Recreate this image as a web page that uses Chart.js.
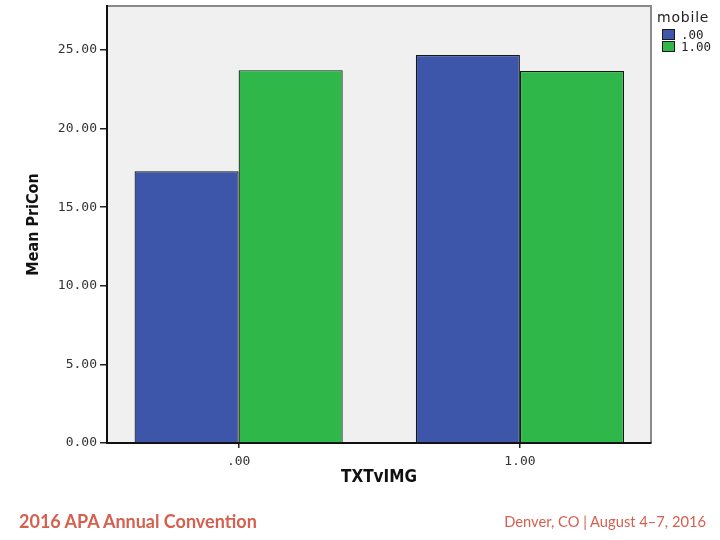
<!DOCTYPE html>
<html>
<head>
<meta charset="utf-8">
<script src="https://cdn.jsdelivr.net/npm/chart.js@4.4.1/dist/chart.umd.min.js"></script>
<style>
  html, body { margin: 0; padding: 0; background: #fff; }
  #wrap { position: relative; width: 720px; height: 540px; }
  #legend { position: absolute; left: 657px; top: 9px; font-family: "DejaVu Sans", sans-serif; color: #222; }
  #legend .title { font-size: 14px; letter-spacing: 0.8px; margin-bottom: 3px; }
  #legend .item { display: flex; align-items: center; height: 12px; margin-left: 5px; font-family: "DejaVu Sans Mono", monospace; font-size: 12.5px; }
  #legend .box { width: 11px; height: 9px; border: 1px solid #1a1a1a; margin-right: 6px; }
  .foot { position: absolute; top: 510px; font-family: Lato, sans-serif; color: #d6604f; white-space: nowrap; }
  #footL { left: 19px; font-weight: bold; font-size: 18px; }
  #footR { right: 14px; font-size: 14.7px; top: 512px; }
</style>
</head>
<body>
<div id="wrap">
  <canvas id="c" width="720" height="540"></canvas>
  <div id="legend"></div>
  <div class="foot" id="footL">2016 APA Annual Convention</div>
  <div class="foot" id="footR">Denver, CO | August 4–7, 2016</div>
</div>
<script>
// ---- data ----
const categories = [0, 1];
const categoryLabels = [".00", "1.00"];
const seriesNames = [".00", "1.00"];
const mobile00 = [17.28, 24.68];
const mobile100 = [23.72, 23.66];
const yTicks = [0, 5, 10, 15, 20, 25];
const legendTitle = "mobile";
const xTitle = "TXTvIMG";
const yTitle = "Mean PriCon";

const colors = ["#3d56a9", "#2fb74a"];
const seriesValues = [mobile00, mobile100];

const datasets = seriesNames.map((name, i) => ({
  label: name,
  data: categories.map((c, j) => ({ x: c, y: seriesValues[i][j] })),
  backgroundColor: colors[i],
  borderColor: "#151a15",
  borderWidth: 1.2,
  borderSkipped: "bottom",
  barPercentage: 1.0,
  categoryPercentage: 0.74
}));

// HTML legend from the series arrays
const lg = document.getElementById("legend");
lg.innerHTML = '<div class="title">' + legendTitle + '</div>' +
  seriesNames.map((n, i) => '<div class="item"><span class="box" style="background:' + colors[i] + '"></span>' + n + '</div>').join("");

const plotBg = {
  id: "plotBg",
  beforeDraw(chart) {
    const { ctx, chartArea: a } = chart;
    ctx.save();
    ctx.fillStyle = "#f0f0f0";
    ctx.fillRect(a.left, a.top, a.right - a.left, a.bottom - a.top);
    ctx.strokeStyle = "#8a8a8a";
    ctx.lineWidth = 2;
    ctx.beginPath();
    ctx.moveTo(a.left, a.top);
    ctx.lineTo(a.right, a.top);
    ctx.lineTo(a.right, a.bottom);
    ctx.stroke();
    ctx.restore();
  }
};

new Chart(document.getElementById("c"), {
  type: "bar",
  data: { datasets },
  options: {
    responsive: false,
    animation: false,
    layout: { padding: { left: 0, right: 69, top: 6, bottom: 49 } },
    plugins: { legend: { display: false }, tooltip: { enabled: false } },
    scales: {
      x: {
        type: "linear",
        offset: false,
        min: -0.468,
        max: 1.466,
        afterBuildTicks(scale) { scale.ticks = categories.map(v => ({ value: v })); },
        afterFit(scale) { scale.height = 48; scale.paddingLeft = 0; scale.paddingRight = 0; },
        ticks: {
          callback: (v) => categoryLabels[categories.indexOf(v)] ?? "",
          font: { family: "DejaVu Sans Mono", size: 13 },
          color: "#333",
          padding: 6,
          maxRotation: 0
        },
        grid: { offset: false, drawOnChartArea: false, drawTicks: true, tickLength: 5, color: "#222", lineWidth: 1.5 },
        border: { color: "#111", width: 2 },
        title: {
          display: true, text: xTitle,
          font: { family: "DejaVu Sans Condensed", size: 17, weight: "bold" },
          color: "#111",
          padding: { top: 0, bottom: 3 }
        }
      },
      y: {
        min: 0,
        max: 27.8,
        afterBuildTicks(scale) { scale.ticks = yTicks.map(v => ({ value: v })); },
        afterFit(scale) { scale.width = 107; scale.paddingTop = 0; scale.paddingBottom = 0; },
        ticks: {
          callback: (v) => v.toFixed(2),
          font: { family: "DejaVu Sans Mono", size: 13 },
          color: "#333",
          padding: 3
        },
        grid: { drawOnChartArea: false, tickLength: 7, color: "#222", lineWidth: 1.5 },
        border: { color: "#111", width: 2 },
        title: {
          display: true, text: yTitle,
          font: { family: "DejaVu Sans Condensed", size: 16, weight: "bold" },
          color: "#111",
          padding: { top: 24, bottom: 0 }
        }
      }
    }
  },
  plugins: [plotBg]
});
</script>
</body>
</html>
